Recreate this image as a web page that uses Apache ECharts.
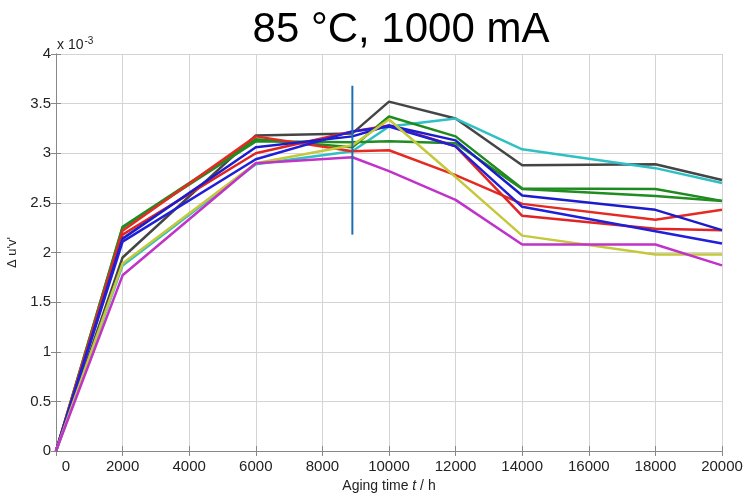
<!DOCTYPE html>
<html>
<head>
<meta charset="utf-8">
<script src="https://cdn.jsdelivr.net/npm/echarts@6/dist/echarts.min.js"></script>
<style>
    html, body { margin: 0; padding: 0; background: #fff; }
    #main { width: 744px; height: 494px; }
</style>
</head>
<body>
<div id="main"></div>
<script>
// aging time points (h)
var hours = [0, 2000, 6000, 8900, 10000, 12000, 14000, 18000, 20000]

// delta u'v' values, in units of 1e-3
var grayVals    = [0, 1.95, 3.18, 3.20, 3.52, 3.35, 2.88, 2.89, 2.73]
var cyanVals    = [0, 1.87, 2.89, 3.02, 3.27, 3.35, 3.04, 2.85, 2.70]
var green1Vals  = [0, 2.26, 3.14, 3.06, 3.37, 3.17, 2.645, 2.64, 2.52]
var green2Vals  = [0, 2.25, 3.12, 3.11, 3.12, 3.10, 2.64, 2.57, 2.52]
var red1Vals    = [0, 2.22, 3.17, 3.02, 3.03, 2.78, 2.49, 2.33, 2.43]
var red2Vals    = [0, 2.18, 3.00, 3.22, 3.28, 3.07, 2.37, 2.24, 2.225]
var blue1Vals   = [0, 2.14, 3.06, 3.17, 3.28, 3.13, 2.575, 2.43, 2.225]
var blue2Vals   = [0, 2.11, 2.94, 3.22, 3.27, 3.07, 2.46, 2.215, 2.09]
var yellowVals  = [0, 1.89, 2.90, 3.08, 3.34, 2.76, 2.17, 1.98, 1.98]
var magentaVals = [0, 1.77, 2.90, 2.96, 2.82, 2.53, 2.08, 2.08, 1.87]

// vertical marker
var markerHour = 8900
var markerRange = [2.18, 3.68]

var seriesList = [
    { name: 'gray', color: '#454545', data: grayVals },
    { name: 'cyan', color: '#2fc0c4', data: cyanVals },
    { name: 'green1', color: '#1f8a1f', data: green1Vals },
    { name: 'green2', color: '#218c21', data: green2Vals },
    { name: 'red1', color: '#e52a22', data: red1Vals },
    { name: 'red2', color: '#e02424', data: red2Vals },
    { name: 'blue1', color: '#1c1ccc', data: blue1Vals },
    { name: 'blue2', color: '#2020d8', data: blue2Vals },
    { name: 'yellow', color: '#c4c83a', data: yellowVals },
    { name: 'magenta', color: '#c033c8', data: magentaVals }
]

function pairs(vals) {
    return vals.map(function (v, i) {
        return [hours[i], v]
    })
}

var chartDom = document.getElementById('main')
var myChart = echarts.init(chartDom)
var font = 'Liberation Sans, Arial, sans-serif'

var series = seriesList.map(function (s) {
    return {
        name: s.name,
        type: 'line',
        data: pairs(s.data),
        showSymbol: false,
        silent: true,
        lineStyle: { color: s.color, width: 2.5 },
        itemStyle: { color: s.color }
    }
})
series.push({
    name: 'marker',
    type: 'line',
    data: [[markerHour, markerRange[0]], [markerHour, markerRange[1]]],
    showSymbol: false,
    silent: true,
    lineStyle: { color: '#1f6fae', width: 2 }
})

var option = {
    animation: false,
    title: {
        text: '85 °C, 1000 mA',
        left: 396,
        textAlign: 'center',
        top: 4,
        textStyle: { fontFamily: font, fontSize: 42, fontWeight: 'normal', color: '#000' }
    },
    grid: { left: 56, right: 22, top: 54, bottom: 43, outerBoundsMode: 'none', containLabel: false },
    graphic: [{
        type: 'text',
        left: 57,
        top: 36,
        style: {
            text: '{a|x 10}{s|-3}',
            rich: {
                a: { fontFamily: font, fontSize: 14, fill: '#222' },
                s: { fontFamily: font, fontSize: 10, fill: '#222', verticalAlign: 'top', padding: [0, 0, 8, 1] }
            }
        }
    }],
    xAxis: [{
        type: 'value',
        min: 0,
        max: 20000,
        interval: 2000,
        name: '{a|Aging time }{i|t}{a| / h}',
        nameLocation: 'middle',
        nameGap: 25,
        nameTextStyle: {
            rich: {
                a: { fontFamily: font, fontSize: 14, color: '#222' },
                i: { fontFamily: font, fontSize: 14, color: '#222', fontStyle: 'italic' }
            }
        },
        axisLine: { show: true, lineStyle: { color: '#888', width: 1 } },
        axisTick: { inside: true, length: 5, lineStyle: { color: '#888' } },
        axisLabel: {
            fontFamily: font, fontSize: 15, color: '#222', margin: 8,
            formatter: function (v) { return v === 0 ? '{z|0}' : String(v) },
            rich: { z: { fontFamily: font, fontSize: 15, color: '#222', padding: [0, 0, 0, 20] } }
        },
        splitLine: { show: true, lineStyle: { color: '#d4d4d4', width: 1 } }
    }, {
        type: 'value',
        position: 'top',
        min: 0,
        max: 20000,
        interval: 2000,
        axisLine: { show: true, lineStyle: { color: '#888', width: 1 } },
        axisTick: { inside: true, length: 5, lineStyle: { color: '#888' } },
        axisLabel: { show: false },
        splitLine: { show: false }
    }],
    yAxis: [{
        type: 'value',
        min: 0,
        max: 4,
        interval: 0.5,
        name: "Δ u'v'",
        nameLocation: 'middle',
        nameGap: 36,
        nameRotate: 90,
        nameTextStyle: { fontFamily: font, fontSize: 13, color: '#222' },
        axisLine: { show: true, lineStyle: { color: '#888', width: 1 } },
        axisTick: { inside: true, length: 5, lineStyle: { color: '#888' } },
        axisLabel: { fontFamily: font, fontSize: 15, color: '#222', margin: 5 },
        splitLine: { show: true, lineStyle: { color: '#d4d4d4', width: 1 } }
    }, {
        type: 'value',
        position: 'right',
        min: 0,
        max: 4,
        interval: 0.5,
        axisLine: { show: true, lineStyle: { color: '#888', width: 1 } },
        axisTick: { inside: true, length: 5, lineStyle: { color: '#888' } },
        axisLabel: { show: false },
        splitLine: { show: false }
    }],
    series: series
}

option && myChart.setOption(option)
</script>
</body>
</html>
